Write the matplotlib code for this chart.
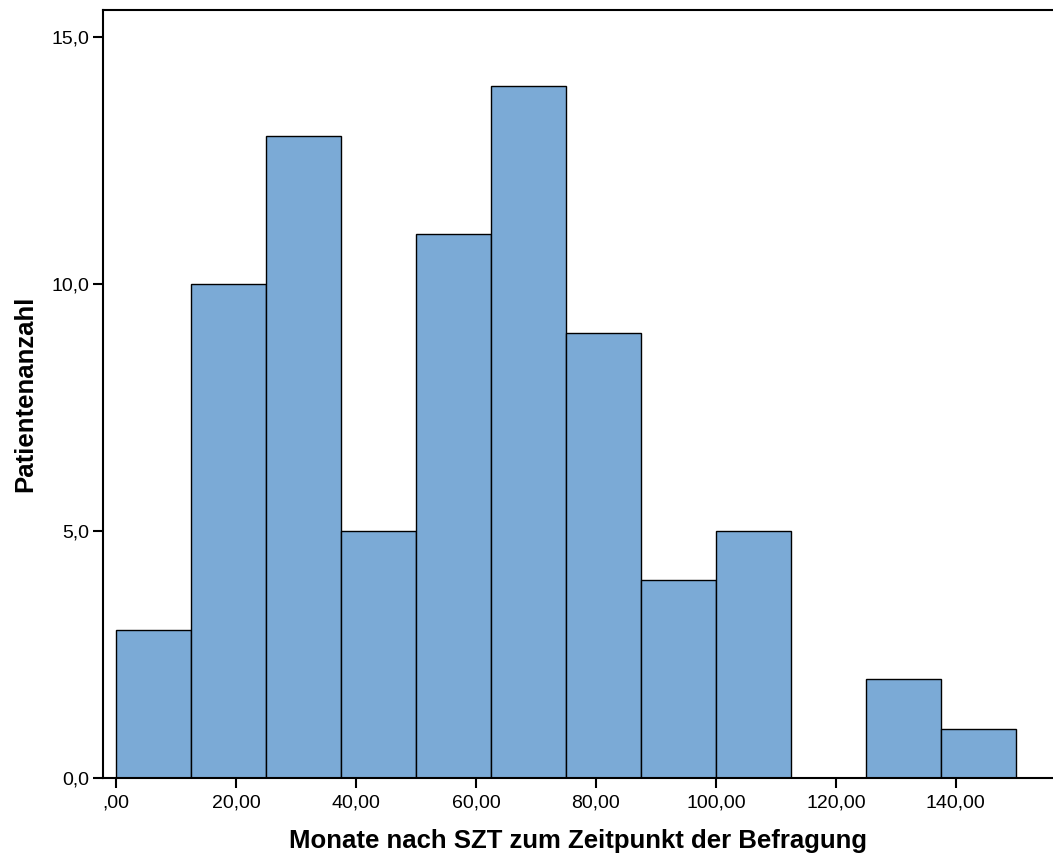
# Histogram: months after SZT at the time of the survey
import numpy as np
import matplotlib
matplotlib.use("Agg")
import matplotlib.pyplot as plt

# Data
bin_edges = [0, 12.5, 25, 37.5, 50, 62.5, 75, 87.5, 100, 112.5, 125, 137.5, 150]
counts = [3, 10, 13, 5, 11, 14, 9, 4, 5, 0, 2, 1]
x_ticks = [0, 20, 40, 60, 80, 100, 120, 140]
x_tick_labels = [",00", "20,00", "40,00", "60,00", "80,00", "100,00", "120,00", "140,00"]
y_ticks = [0, 5, 10, 15]
y_tick_labels = ["0,0", "5,0", "10,0", "15,0"]

plt.rcParams['font.family'] = ['Liberation Sans', 'DejaVu Sans']

fig = plt.figure(figsize=(10.53, 8.58), dpi=100)
ax = fig.add_axes([103 / 1053, 1 - 778 / 858, 1 - 103 / 1053, (778 - 10) / 858])

lefts = np.array(bin_edges[:-1])
widths = np.diff(bin_edges)
ax.bar(lefts, counts, width=widths, align='edge', color='#7BAAD6',
       edgecolor='black', linewidth=1.0)

ax.set_xlim(-2.17, 156.2)
ax.set_ylim(0, 15.54)

ax.set_xticks(x_ticks)
ax.set_xticklabels(x_tick_labels)
ax.set_yticks(y_ticks)
ax.set_yticklabels(y_tick_labels)
ax.tick_params(axis='both', direction='out', length=7, width=1.5, labelsize=14, pad=3)
ax.tick_params(axis='x', pad=5)

for side in ['left', 'top', 'bottom']:
    ax.spines[side].set_linewidth(1.5)
ax.spines['right'].set_visible(False)

ax.set_xlabel("Monate nach SZT zum Zeitpunkt der Befragung", fontsize=18.5,
              fontweight='bold')
ax.set_ylabel("Patientenanzahl", fontsize=18.5, fontweight='bold')
ax.xaxis.set_label_coords(0.5, -0.066)
ax.yaxis.set_label_coords(-0.069, 0.5)

fig.savefig("out.png", dpi=100)
